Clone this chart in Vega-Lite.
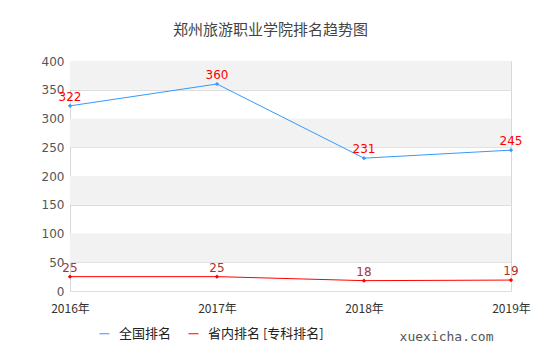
{
  "$schema": "https://vega.github.io/schema/vega-lite/v6.json",
  "width": 441,
  "height": 230,
  "autosize": {"type": "none"},
  "padding": {"left": 70, "top": 61, "right": 29, "bottom": 69},
  "background": "white",
  "title": {"text": "郑州旅游职业学院排名趋势图", "font": "Noto Sans CJK SC", "fontSize": 15, "fontWeight": "normal", "color": "#444", "anchor": "middle", "dx": -20, "offset": 17},
  "config": {
    "view": {"stroke": "#d8d8d8"},
    "font": "Noto Sans CJK SC",
    "axisY": {"labelOverlap": false, "labelFontSize": 12, "labelColor": "#555", "labelFont": "DejaVu Sans", "domain": true, "domainColor": "#d8d8d8", "ticks": false, "gridColor": "#dddddd", "labelPadding": 6},
    "axisX": {"labelAngle": 0, "labelFontSize": 12, "labelColor": "#333", "labelPadding": 12, "labelOverlap": false, "domain": false, "ticks": false, "grid": false}
  },
  "datasets": {
    "bands": [
      {"lo": 350, "hi": 400}, {"lo": 250, "hi": 300}, {"lo": 150, "hi": 200}, {"lo": 50, "hi": 100}
    ],
    "ranks": [
      {"year": "2016年", "series": "全国排名", "rank": 322},
      {"year": "2017年", "series": "全国排名", "rank": 360},
      {"year": "2018年", "series": "全国排名", "rank": 231},
      {"year": "2019年", "series": "全国排名", "rank": 245},
      {"year": "2016年", "series": "省内排名 [专科排名]", "rank": 25},
      {"year": "2017年", "series": "省内排名 [专科排名]", "rank": 25},
      {"year": "2018年", "series": "省内排名 [专科排名]", "rank": 18},
      {"year": "2019年", "series": "省内排名 [专科排名]", "rank": 19}
    ]
  },
  "layer": [
    {
      "data": {"name": "bands"},
      "mark": {"type": "rect", "color": "#f2f2f2"},
      "encoding": {
        "y": {"field": "lo", "type": "quantitative", "scale": {"domain": [0, 400]},
          "axis": {"values": [0,50,100,150,200,250,300,350,400], "title": null}},
        "y2": {"field": "hi"}
      }
    },
    {
      "data": {"name": "ranks"},
      "mark": {"type": "line", "strokeWidth": 1, "point": {"shape": "diamond", "filled": true, "size": 18, "color": "#222"}},
      "encoding": {
        "x": {"field": "year", "type": "ordinal", "scale": {"type": "point", "padding": 0},
          "axis": {"title": "xuexicha.com", "titleFont": "DejaVu Sans Mono", "titleFontSize": 13, "titleFontWeight": "normal", "titleColor": "#555", "titleAnchor": "end", "titleAlign": "right", "titleX": 423, "titleY": 45, "titleBaseline": "middle"}},
        "y": {"field": "rank", "type": "quantitative", "axis": {"values": [0,50,100,150,200,250,300,350,400], "title": null}},
        "color": {"field": "series", "type": "nominal",
          "scale": {"domain": ["全国排名", "省内排名 [专科排名]"], "range": ["#3399ff", "#ff0000"]},
          "legend": {"title": null, "orient": "none", "direction": "horizontal", "legendX": 28, "legendY": 266, "labelFontSize": 13, "labelColor": "#222", "symbolType": "stroke", "symbolSize": 100, "symbolStrokeWidth": 1, "columnPadding": 14, "labelOffset": 8}}
      }
    },
    {
      "data": {"name": "ranks"},
      "mark": {"type": "text", "dy": -9, "fontSize": 12, "font": "DejaVu Sans"},
      "encoding": {
        "x": {"field": "year", "type": "ordinal", "axis": {"title": "xuexicha.com", "titleFont": "DejaVu Sans Mono", "titleFontSize": 13, "titleFontWeight": "normal", "titleColor": "#555", "titleAnchor": "end", "titleAlign": "right", "titleX": 423, "titleY": 45, "titleBaseline": "middle"}},
        "y": {"field": "rank", "type": "quantitative", "axis": {"values": [0,50,100,150,200,250,300,350,400], "title": null}},
        "text": {"field": "rank", "type": "quantitative"},
        "color": {"field": "series", "type": "nominal", "scale": {"domain": ["全国排名", "省内排名 [专科排名]"], "range": ["#ff0000", "#aa3333"]}, "legend": null}
      }
    }
  ],
  "resolve": {"scale": {"color": "independent"}}
}
